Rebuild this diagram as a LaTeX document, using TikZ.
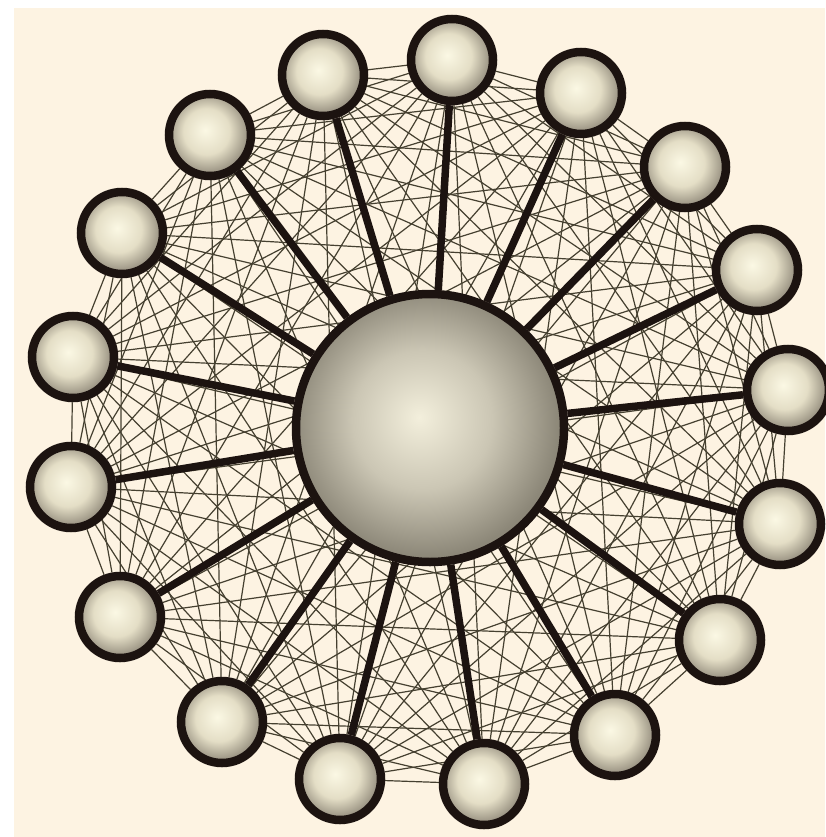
\documentclass[tikz,border=0pt]{standalone}
\usetikzlibrary{backgrounds}
\usepackage{xcolor}
\definecolor{paper}{HTML}{FDF3E2}
\definecolor{meshgrey}{HTML}{454030}
\definecolor{spokebrown}{HTML}{1C1310}
\definecolor{orbhi}{HTML}{FBF8E4}
\definecolor{orbmid}{HTML}{E4DEC6}
\definecolor{orbedge}{HTML}{979080}
\definecolor{hubhi}{HTML}{F3EFDC}
\definecolor{hubmid}{HTML}{CBC6B4}
\definecolor{hubedge}{HTML}{8C8778}
\pgfdeclareradialshading{peerorb}{\pgfpoint{-3bp}{3bp}}{%
  color(0bp)=(orbhi); color(14bp)=(orbmid); color(25bp)=(orbedge); color(50bp)=(orbedge)}
\pgfdeclareradialshading{huborb}{\pgfpoint{-2bp}{2bp}}{%
  color(0bp)=(hubhi); color(13bp)=(hubmid); color(25bp)=(hubedge); color(50bp)=(hubedge)}
\tikzset{
  peer/.style={circle,draw=spokebrown,line width=8.5pt,minimum size=82pt,inner sep=0pt,shading=peerorb},
  hub/.style={circle,draw=spokebrown,line width=8.5pt,minimum size=268pt,inner sep=0pt,shading=huborb},
  meshedge/.style={meshgrey,line width=1.2pt},
  spokeedge/.style={spokebrown,line width=7.5pt}
}

\begin{document}
\begin{tikzpicture}[x=1pt,y=-1pt]
  \useasboundingbox (0,0) rectangle (825,837);
  % Central hub
  \node[hub] (hub) at (430,428) {};
  % Outer nodes
  \foreach \i/\x/\y in {1/452/60, 2/581/93, 3/685/167, 4/757/270, 5/788/390,
      6/780/524, 7/720/640, 8/615/735, 9/484/784, 10/340/779, 11/222/722,
      12/120/617, 13/71/487, 14/73/357, 15/122/233, 16/210/135, 17/323/75}
    \node[peer] (n\i) at (\x,\y) {};
  \begin{scope}[on background layer]
    % Paper
    \fill[paper] (14,8) rectangle (825,837);
    % Mesh between all outer nodes
    \foreach \i in {1,...,16} {
      \pgfmathtruncatemacro{\j}{\i+1}
      \foreach \k in {\j,...,17}
        \draw[meshedge] (n\i) -- (n\k);
    }
    % Spokes
    \foreach \i in {1,...,17}
      \draw[spokeedge] (hub) -- (n\i);
  \end{scope}
\end{tikzpicture}
\end{document}
